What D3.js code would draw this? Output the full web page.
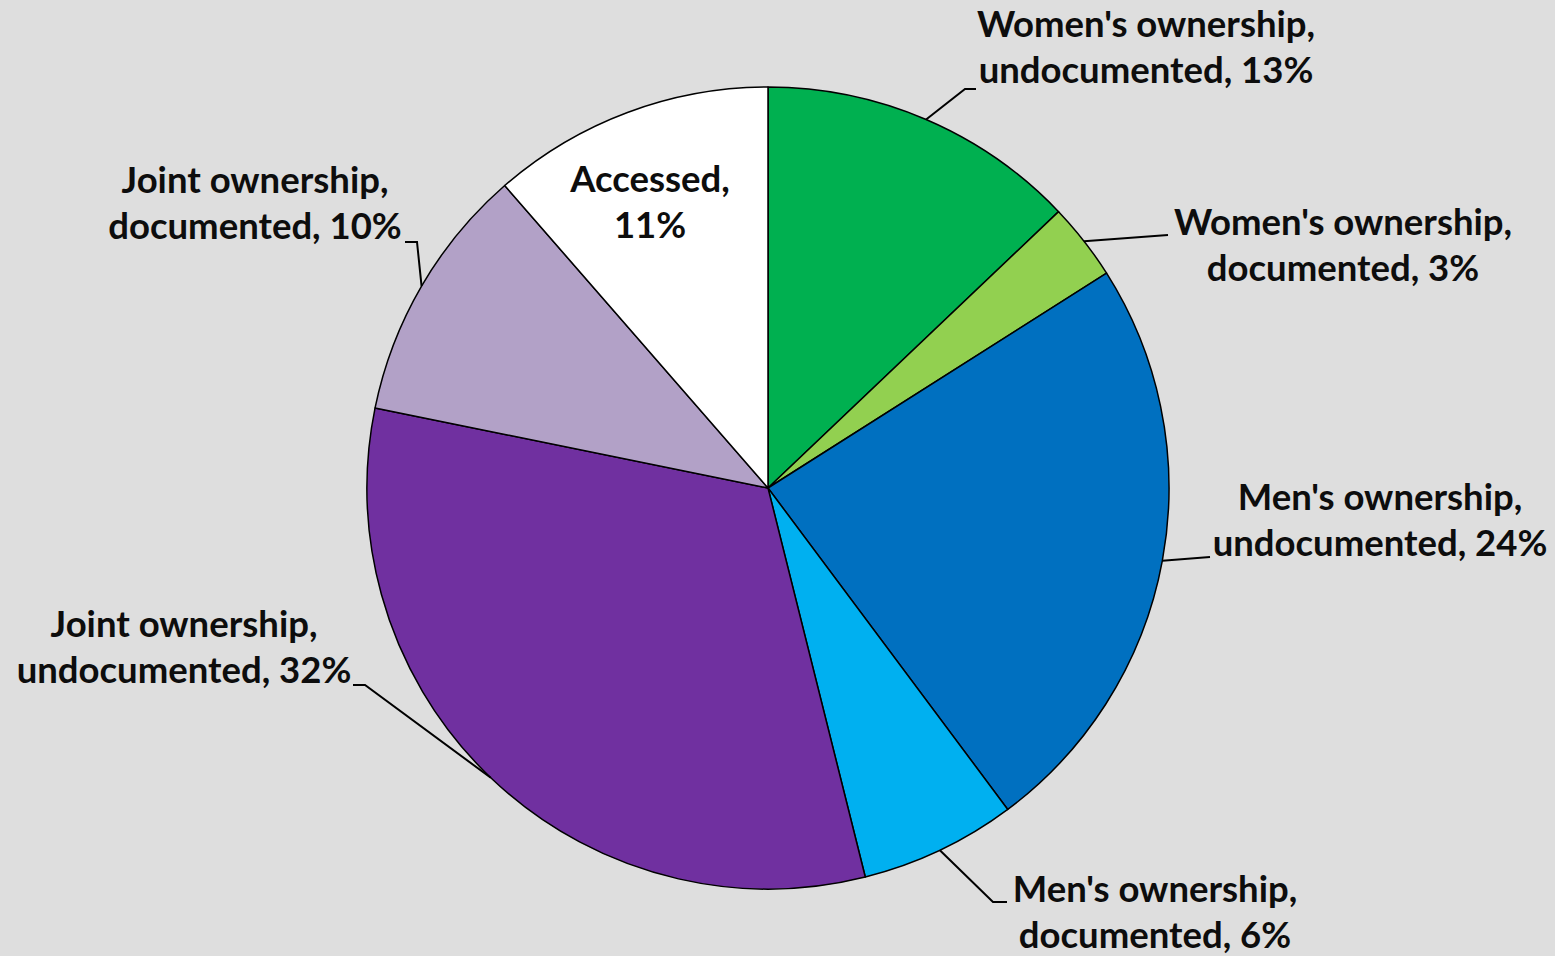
<!DOCTYPE html>
<html>
<head>
<meta charset="utf-8">
<script src="https://cdn.jsdelivr.net/npm/d3@7"></script>
<style>
    html, body { margin: 0; padding: 0; background: #dedede; }
    svg { display: block; }
    .label { font-family: Lato, "Open Sans", sans-serif; font-weight: bold; font-size: 36.5px; fill: #0d0d0d; }
</style>
</head>
<body>
<svg width="1555" height="956"></svg>
<script>
// slices, clockwise from 12 o'clock
const categories = [
    "Women's ownership, undocumented",
    "Women's ownership, documented",
    "Men's ownership, undocumented",
    "Men's ownership, documented",
    "Joint ownership, undocumented",
    "Joint ownership, documented",
    "Accessed"
];
const shares = [12.9, 3.1, 23.8, 6.3, 32.1, 10.4, 11.4];
const labelLines = [
    ["Women's ownership,", "undocumented, 13%"],
    ["Women's ownership,", "documented, 3%"],
    ["Men's ownership,", "undocumented, 24%"],
    ["Men's ownership,", "documented, 6%"],
    ["Joint ownership,", "undocumented, 32%"],
    ["Joint ownership,", "documented, 10%"],
    ["Accessed,", "11%"]
];
const colors = ["#00b050", "#92d050", "#0070c0", "#00b0f0", "#7030a0", "#b2a1c7", "#ffffff"];

document.addEventListener("DOMContentLoaded", function () {
    const svg = d3.select("svg");
    const cx = 768, cy = 488, radius = 401;

    const slices = categories.map((c, i) => ({ name: c, value: shares[i], lines: labelLines[i], color: colors[i] }));

    const pie = d3.pie().value(d => d.value).sort(null);
    const arc = d3.arc().innerRadius(0).outerRadius(radius);
    const arcs = pie(slices);

    const g = svg.append("g").attr("transform", `translate(${cx},${cy})`);

    g.selectAll("path.slice")
        .data(arcs)
        .enter().append("path")
        .attr("class", "slice")
        .attr("d", arc)
        .attr("fill", d => d.data.color)
        .attr("stroke", "#000")
        .attr("stroke-width", 1.5)
        .attr("stroke-linejoin", "round");

    // label placement relative to pie centre: text centre x, first baseline,
    // leader elbow and leader end (null = label sits inside the slice)
    const layout = [
        { x: 378, y: -451, elbow: [197, -399], end: [208, -399] },
        { x: 575, y: -253, elbow: null, end: [400, -253] },
        { x: 612, y: 22, elbow: null, end: [442, 69] },
        { x: 387, y: 414, elbow: [225, 414], end: [239, 414] },
        { x: -584, y: 149, elbow: [-403, 197], end: [-415, 197] },
        { x: -513, y: -295, elbow: [-351, -246], end: [-363, -246] },
        { x: -118, y: -296, elbow: null, end: null }
    ];
    const lineGap = 46;

    const leader = g.append("g").attr("class", "leaders");
    arcs.forEach((d, i) => {
        const l = layout[i];
        if (!l.end) return;
        const mid = (d.startAngle + d.endAngle) / 2;
        const p0 = [radius * Math.sin(mid), -radius * Math.cos(mid)];
        const pts = [p0];
        if (l.elbow) pts.push(l.elbow);
        pts.push(l.end);
        leader.append("path")
            .attr("d", d3.line()(pts))
            .attr("fill", "none")
            .attr("stroke", "#000")
            .attr("stroke-width", 2);
    });

    const labels = g.selectAll("text.label")
        .data(arcs)
        .enter().append("text")
        .attr("class", "label")
        .attr("text-anchor", "middle");

    labels.each(function (d, i) {
        const t = d3.select(this);
        d.data.lines.forEach((line, k) => {
            t.append("tspan")
                .attr("x", layout[i].x)
                .attr("y", layout[i].y + k * lineGap)
                .text(line);
        });
    });
});
</script>
</body>
</html>
